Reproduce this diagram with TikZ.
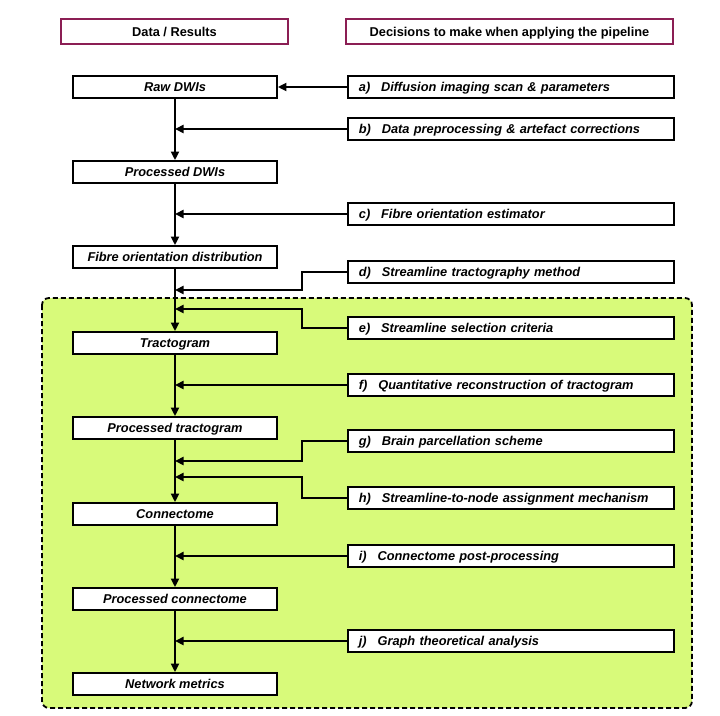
\documentclass[tikz,border=0pt]{standalone}
\usepackage{fontspec}
\setmainfont{Liberation Sans}
\usepackage{xcolor}
\usetikzlibrary{arrows.meta,positioning}
\definecolor{headred}{RGB}{139, 30, 84}
\definecolor{limegreen}{RGB}{216, 250, 122}

\tikzset{
  boxfont/.style={font=\fontsize{12.8}{14}\selectfont\bfseries\itshape, text height=9.2pt, text depth=-0.6pt},
  databox/.style={draw, line width=1.8pt, fill=white, minimum width=204pt, minimum height=22pt,
    inner sep=0pt, boxfont},
  choicebox/.style={draw, line width=1.8pt, fill=white, minimum height=22pt, anchor=west,
    text width=304pt, inner xsep=11pt, inner ysep=0pt, align=left, boxfont},
  headbox/.style={draw=headred, line width=2.6pt, fill=white, minimum height=25pt,
    inner sep=0pt, font=\fontsize{12.8}{14}\selectfont\bfseries, text height=9.2pt, text depth=-0.6pt},
  arr/.style={line width=2pt, -{Triangle[length=8.5pt,width=8pt]}}
}
\newcommand{\lbl}[2]{#1)\hspace{0.85em}#2}

\begin{document}
\begin{tikzpicture}[x=1pt, y=-1pt]
  \useasboundingbox (0,0) rectangle (720,715);

  % reconstruction region
  \draw[fill=limegreen, line width=1.8pt, dash pattern=on 5pt off 3pt, rounded corners=7pt]
    (42,298) rectangle (692,708);

  % headers
  \node[headbox, minimum width=227pt] (hdata) at (174.5,31.5) {Data / Results};
  \node[headbox, minimum width=327pt] (hdec) at (509.5,31.5) {Decisions to make when applying the pipeline};

  % data / results
  \node[databox] (raw) at (175,87) {Raw DWIs};
  \node[databox] (pdwi) at (175,172) {Processed DWIs};
  \node[databox] (fod) at (175,257) {Fibre orientation distribution};
  \node[databox] (tract) at (175,343) {Tractogram};
  \node[databox] (ptract) at (175,428) {Processed tractogram};
  \node[databox] (conn) at (175,514) {Connectome};
  \node[databox] (pconn) at (175,599) {Processed connectome};
  \node[databox] (metrics) at (175,684) {Network metrics};

  % decisions
  \node[choicebox] (a) at (347,87) {\lbl{a}{Diffusion imaging scan \& parameters}};
  \node[choicebox] (b) at (347,129) {\lbl{b}{Data preprocessing \& artefact corrections}};
  \node[choicebox] (c) at (347,214) {\lbl{c}{Fibre orientation estimator}};
  \node[choicebox] (d) at (347,272) {\lbl{d}{Streamline tractography method}};
  \node[choicebox] (e) at (347,328) {\lbl{e}{Streamline selection criteria}};
  \node[choicebox] (f) at (347,385) {\lbl{f}{Quantitative reconstruction of tractogram}};
  \node[choicebox] (g) at (347,441) {\lbl{g}{Brain parcellation scheme}};
  \node[choicebox] (h) at (347,498) {\lbl{h}{Streamline-to-node assignment mechanism}};
  \node[choicebox] (i) at (347,556) {\lbl{i}{Connectome post-processing}};
  \node[choicebox] (j) at (347,641) {\lbl{j}{Graph theoretical analysis}};

  % main pipeline
  \draw[arr] (raw) -- (pdwi);
  \draw[arr] (pdwi) -- (fod);
  \draw[arr] (fod) -- (tract);
  \draw[arr] (tract) -- (ptract);
  \draw[arr] (ptract) -- (conn);
  \draw[arr] (conn) -- (pconn);
  \draw[arr] (pconn) -- (metrics);

  % decision inputs
  \coordinate (dj) at (175,290);
  \coordinate (ej) at (175,309);
  \coordinate (gj) at (175,461);
  \coordinate (hj) at (175,477);
  \draw[arr] (a) -- (raw);
  \draw[arr] (b.west) -- (b.west -| raw.south);
  \draw[arr] (c.west) -- (c.west -| raw.south);
  \draw[arr] (d.west) -- ++(-45,0) |- (dj);
  \draw[arr] (e.west) -- ++(-45,0) |- (ej);
  \draw[arr] (f.west) -- (f.west -| raw.south);
  \draw[arr] (g.west) -- ++(-45,0) |- (gj);
  \draw[arr] (h.west) -- ++(-45,0) |- (hj);
  \draw[arr] (i.west) -- (i.west -| raw.south);
  \draw[arr] (j.west) -- (j.west -| raw.south);
\end{tikzpicture}
\end{document}
